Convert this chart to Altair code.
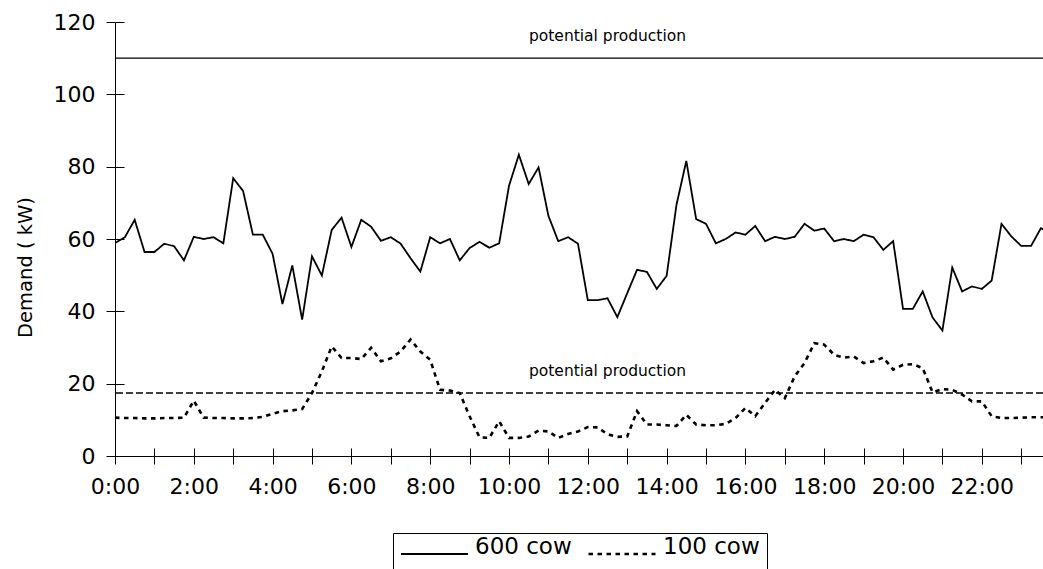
import altair as alt
import pandas as pd

# 15-minute readings, 0:00 .. 23:45
cow600 = [58.9, 60.5, 65.3, 56.4, 56.4, 58.7, 58.0, 54.1, 60.6, 60.0, 60.5, 58.8,
          76.8, 73.3, 61.2, 61.2, 55.9, 42.0, 52.7, 37.7, 55.2, 49.9, 62.5, 65.9,
          57.8, 65.3, 63.4, 59.5, 60.5, 58.7, 54.7, 51.0, 60.5, 58.8, 60.0, 54.1,
          57.5, 59.2, 57.6, 58.8, 74.7, 83.3, 75.2, 79.8, 66.4, 59.4, 60.5, 58.7,
          43.1, 43.1, 43.6, 38.4, 45.0, 51.5, 50.9, 46.2, 49.8, 69.4, 81.6, 65.5,
          64.2, 58.8, 60.0, 61.8, 61.2, 63.6, 59.4, 60.6, 60.0, 60.6, 64.2, 62.3,
          62.9, 59.4, 60.0, 59.4, 61.2, 60.5, 57.0, 59.4, 40.7, 40.7, 45.5, 38.3,
          34.7, 52.1, 45.5, 46.9, 46.2, 48.5, 64.2, 60.7, 58.1, 58.1, 63.0, 61.5]
cow100 = [10.6, 10.5, 10.5, 10.4, 10.4, 10.5, 10.5, 10.6, 15.3, 10.6, 10.5, 10.5,
          10.4, 10.4, 10.5, 10.8, 11.7, 12.4, 12.6, 13.0, 17.4, 23.4, 30.3, 27.1,
          27.1, 26.8, 29.9, 26.2, 27.0, 28.9, 32.2, 28.9, 26.6, 18.3, 18.1, 17.4,
          11.0, 5.2, 5.0, 9.6, 5.0, 5.0, 5.4, 7.0, 6.8, 5.0, 6.1, 6.8,
          8.0, 7.9, 6.0, 5.3, 5.4, 12.4, 8.7, 8.7, 8.5, 8.3, 11.4, 8.7,
          8.5, 8.5, 8.9, 10.5, 13.3, 11.0, 14.7, 18.3, 16.0, 22.0, 25.7, 31.2,
          30.8, 28.0, 27.2, 27.5, 25.7, 26.2, 27.2, 23.9, 25.2, 25.4, 24.3, 17.6,
          18.5, 18.3, 17.0, 15.1, 15.1, 11.0, 10.5, 10.5, 10.6, 10.7, 10.7, 10.7]
series_names = ["600 cow", "100 cow"]
potential = [110, 17.4]
potential_label = "potential production"
label_hour = 12.5
hour_ticks = list(range(0, 24))
y_ticks = [0, 20, 40, 60, 80, 100, 120]

hours = [i * 0.25 for i in range(len(cow600))]
df = pd.DataFrame({
    "hour": hours * 2,
    "kw": cow600 + cow100,
    "series": [series_names[0]] * len(cow600) + [series_names[1]] * len(cow100),
})
pot_df = pd.DataFrame({"level": potential, "series": series_names, "text": [potential_label] * 2})

FONT = "DejaVu Sans"
W, H = 928, 434
xscale = alt.Scale(domain=[0, 23.553], nice=False, zero=False)
yscale = alt.Scale(domain=[0, 120], nice=False)

main_x_axis = alt.Axis(orient="bottom", values=hour_ticks, title=None, grid=False,
                       labelExpr="datum.value % 2 == 0 ? datum.value + ':00' : ''",
                       tickSize=8, labelPadding=12, labelFontSize=22, labelFont=FONT,
                       labelColor="black", domainColor="black", tickColor="black",
                       labelFlush=False, labelOverlap=False)
main_y_axis = alt.Axis(orient="left", values=y_ticks, title="Demand ( kW)", grid=False,
                       tickSize=9, labelPadding=11, labelFontSize=22, labelFont=FONT,
                       labelColor="black", domainColor="black", tickColor="black",
                       titleFont=FONT, titleFontSize=19.5, titleFontWeight="normal",
                       titleColor="black", titleX=-84, titleY=245, titleAlign="center",
                       titleBaseline="alphabetic", titleAngle=270)

lines = alt.Chart(df).mark_line(clip=True, color="black").encode(
    x=alt.X("hour:Q", scale=xscale, axis=main_x_axis),
    y=alt.Y("kw:Q", scale=yscale, axis=main_y_axis),
    strokeDash=alt.StrokeDash(
        "series:N",
        scale=alt.Scale(domain=series_names, range=[[1, 0], [4.5, 4.5]]),
        legend=alt.Legend(title=None, orient="none", legendX=278, legendY=511,
                          direction="horizontal", symbolType="stroke", symbolSize=4489,
                          symbolStrokeWidth=2, symbolStrokeColor="black",
                          labelFont=FONT, labelFontSize=23, labelColor="black",
                          labelOffset=6, labelBaseline="alphabetic", columnPadding=15,
                          padding=7, clipHeight=28, strokeColor="black", labelLimit=300),
    ),
    strokeWidth=alt.StrokeWidth("series:N",
                                scale=alt.Scale(domain=series_names, range=[1.8, 2.6]),
                                legend=None),
)

inner_ticks = alt.Chart(df).mark_line(opacity=0).encode(
    x=alt.X("hour:Q", scale=xscale,
            axis=alt.Axis(orient="bottom", offset=-8, values=hour_ticks, domain=False,
                          labels=False, tickSize=8, tickColor="black", grid=False, title=None)),
    y=alt.Y("kw:Q", scale=yscale,
            axis=alt.Axis(orient="left", offset=-9, values=y_ticks, domain=False,
                          labels=False, tickSize=9, tickColor="black", grid=False, title=None)),
)

rule_top = alt.Chart(pot_df).transform_filter(
    alt.datum.series == series_names[0]
).mark_rule(color="black", strokeWidth=1.3).encode(
    y=alt.Y("level:Q", scale=yscale, axis=None)
)
rule_low = alt.Chart(pot_df).transform_filter(
    alt.datum.series == series_names[1]
).mark_rule(color="black", strokeWidth=1.4, strokeDash=[7, 3]).encode(
    y=alt.Y("level:Q", scale=yscale, axis=None)
)

labels = alt.Chart(pot_df).mark_text(
    font=FONT, fontSize=15.5, color="black", align="center", baseline="alphabetic", dy=-17
).encode(
    x=alt.X(datum=label_hour, scale=xscale, axis=None),
    y=alt.Y("level:Q", scale=yscale, axis=None),
    text="text:N",
)

chart = alt.layer(rule_top, rule_low, labels, inner_ticks, lines).resolve_axis(
    x="independent", y="independent"
).properties(
    width=W, height=H,
    autosize=alt.AutoSizeParams(type="none"),
    padding={"left": 115, "top": 22, "right": 0, "bottom": 569 - 22 - H},
    background="white",
).configure_view(stroke=None)

chart.save("out.html", embed_options={"renderer": "svg", "actions": False})
